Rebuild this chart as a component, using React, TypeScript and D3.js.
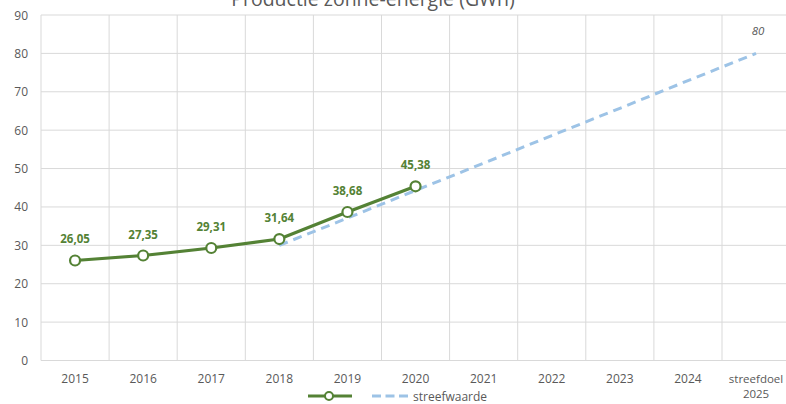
import React from "react";
import * as d3 from "d3";

const categories: string[][] = [
  ["2015"], ["2016"], ["2017"], ["2018"], ["2019"], ["2020"],
  ["2021"], ["2022"], ["2023"], ["2024"], ["streefdoel", "2025"],
];
const categoryKeys = categories.map((c) => c.join(" "));
const production: (number | null)[] = [26.05, 27.35, 29.31, 31.64, 38.68, 45.38, null, null, null, null, null];
const productionLabels: string[] = ["26,05", "27,35", "29,31", "31,64", "38,68", "45,38"];
const target: (number | null)[] = [null, null, null, 30, 37.1, 44.3, 51.4, 58.6, 65.7, 72.9, 80];
const targetEndLabel = "80";
const yTicks: number[] = [0, 10, 20, 30, 40, 50, 60, 70, 80, 90];
const title = "Productie zonne-energie (GWh)";
const legendTarget = "streefwaarde";

const W = 786;
const H = 404;
const left = 41;
const bandW = 68.1;
const top = 15;
const bottom = 360.5;

const GREEN = "#548235";
const BLUE = "#9dc3e6";
const TEXT = "#595959";
const GRID = "#d9d9d9";
const FONT = "'Open Sans', sans-serif";

export default function App() {
  const x = d3.scaleBand<string>().domain(categoryKeys).range([left, left + bandW * categoryKeys.length]).padding(0);
  const y = d3.scaleLinear().domain([0, 90]).range([bottom, top]);
  const cx = (i: number) => (x(categoryKeys[i]) as number) + x.bandwidth() / 2;

  const prodPts = production
    .map((v, i) => (v == null ? null : ([cx(i), y(v)] as [number, number])))
    .filter((p): p is [number, number] => p !== null);
  const targPts = target
    .map((v, i) => (v == null ? null : ([cx(i), y(v)] as [number, number])))
    .filter((p): p is [number, number] => p !== null);
  const line = d3.line<[number, number]>();

  const lastT = targPts[targPts.length - 1];

  return (
    <div style={{ position: "fixed", left: 0, top: 0, width: W, height: H, background: "#fff" }}>
      <svg width={W} height={H} style={{ display: "block" }} fontFamily={FONT}>
        <rect width={W} height={H} fill="#fff" />
        {/* grid */}
        {yTicks.map((t) => (
          <line key={"h" + t} x1={left} x2={left + bandW * categoryKeys.length} y1={y(t)} y2={y(t)} stroke={GRID} strokeWidth={1} />
        ))}
        {categoryKeys.map((k, i) => (
          <line key={"v" + i} x1={x(k) as number} x2={x(k) as number} y1={top} y2={bottom} stroke={GRID} strokeWidth={1} />
        ))}
        <line x1={left + bandW * categoryKeys.length} x2={left + bandW * categoryKeys.length} y1={top} y2={bottom} stroke={GRID} />
        {/* y labels */}
        {yTicks.map((t) => (
          <text key={"yl" + t} x={28} y={y(t) + 4.5} textAnchor="end" fontSize={12} fill={TEXT}>
            {t}
          </text>
        ))}
        {/* x labels */}
        {categories.map((c, i) =>
          c.map((s, j) => (
            <text key={"xl" + i + "_" + j} x={cx(i)} y={383 + j * 15} textAnchor="middle" fontSize={c.length > 1 ? 11.5 : 12} fill={TEXT}>
              {s}
            </text>
          ))
        )}
        {/* title */}
        <text x={373} y={6} textAnchor="middle" fontSize={19.5} fill={TEXT}>
          {title}
        </text>
        {/* target line */}
        <path d={line(targPts) || ""} fill="none" stroke={BLUE} strokeWidth={3} strokeDasharray="9,6" />
        <text x={lastT[0] + 2} y={lastT[1] - 18} textAnchor="middle" fontSize={11.5} fontStyle="italic" fill={TEXT}>
          {targetEndLabel}
        </text>
        {/* production line */}
        <path d={line(prodPts) || ""} fill="none" stroke={GREEN} strokeWidth={3.2} strokeLinejoin="round" />
        {prodPts.map((p, i) => (
          <circle key={"c" + i} cx={p[0]} cy={p[1]} r={5} fill="#fff" stroke={GREEN} strokeWidth={2.2} />
        ))}
        {prodPts.map((p, i) => (
          <text key={"dl" + i} x={p[0]} y={p[1] - 17} textAnchor="middle" fontSize={11.5} fontWeight="bold" fill={GREEN}>
            {productionLabels[i]}
          </text>
        ))}
        {/* legend */}
        <line x1={308} x2={352} y1={396} y2={396} stroke={GREEN} strokeWidth={3.2} />
        <circle cx={329} cy={396} r={4} fill="#fff" stroke={GREEN} strokeWidth={2} />
        <line x1={372} x2={408} y1={396} y2={396} stroke={BLUE} strokeWidth={3} strokeDasharray="9,4.5" />
        <text x={413} y={400.5} fontSize={12} fill={TEXT}>
          {legendTarget}
        </text>
      </svg>
    </div>
  );
}
